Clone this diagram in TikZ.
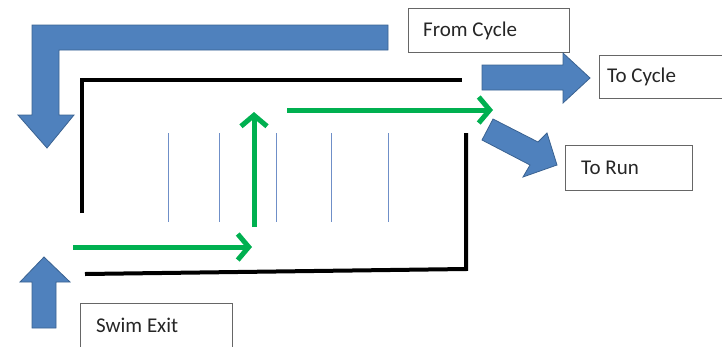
\documentclass[tikz,border=0pt]{standalone}
\usepackage{fontspec}
\setmainfont{Carlito}
\usetikzlibrary{arrows.meta}
\definecolor{arrblue}{HTML}{4F81BD}
\definecolor{arredge}{HTML}{3A6291}
\definecolor{thinblue}{HTML}{6F8FC8}
\definecolor{flowgreen}{HTML}{00B050}
\tikzset{
  bluearrow/.style={fill=arrblue, draw=arredge, line width=0.8pt, line join=miter},
  wall/.style={draw=black, line width=4pt},
  lane/.style={draw=thinblue, line width=0.9pt},
  flow/.style={draw=flowgreen, line width=5pt, -{Straight Barb[length=11pt,width=26pt,line width=5pt]}},
  label/.style={draw=black!60, line width=0.7pt, fill=white, anchor=north west, inner sep=0pt},
  labeltext/.style={anchor=west, inner sep=0pt, text=black!85, font=\fontsize{21}{24}\selectfont},
}
\begin{document}
\begin{tikzpicture}[x=1pt,y=-1pt]
\useasboundingbox (0,0) rectangle (722,346);
% text boxes
\node[label, minimum width=161pt, minimum height=44pt] (fromcycle) at (408,8) {};
\node[labeltext] (fromcycleT) at (423,31) {From Cycle};
\node[label, minimum width=130pt, minimum height=43pt] (tocycle) at (599,55) {};
\node[labeltext] (tocycleT) at (607,77) {To Cycle};
\node[label, minimum width=127pt, minimum height=45pt] (torun) at (565,145) {};
\node[labeltext] (torunT) at (581,168) {To Run};
\node[label, minimum width=152pt, minimum height=50pt] (swimexit) at (80,303) {};
\node[labeltext] (swimexitT) at (96,325) {Swim Exit};
% big blue arrows
\path[bluearrow] (388,25) -- (32,25) -- (32,115) -- (18,115) -- (47,148) -- (74,115) -- (59,115) -- (59,50) -- (388,50) -- cycle;
\path[bluearrow] (482,65) -- (563,65) -- (563,53) -- (590,78) -- (563,103) -- (563,90) -- (482,90) -- cycle;
\path[bluearrow] (493,119) -- (538,142) -- (547,133) -- (557,165) -- (523,177) -- (530,165) -- (482,140) -- cycle;
\path[bluearrow] (32,328) -- (32,282) -- (20,282) -- (44,257) -- (70,282) -- (56,282) -- (56,328) -- cycle;
% walls
\coordinate (wA) at (82,213);
\coordinate (wB) at (82,80);
\coordinate (wC) at (462,80);
\draw[wall] (wA) -- (wB) -- (wC);
\coordinate (wD) at (466,133);
\coordinate (wE) at (466,269);
\coordinate (wF) at (85,274);
\draw[wall] (wD) -- (wE) -- (wF);
% lane lines
\foreach \x [count=\i] in {168,219,276,331,388} {
  \coordinate (lt\i) at (\x,133);
  \coordinate (lb\i) at (\x,222);
  \draw[lane] (lt\i) -- (lb\i);
}
% green flow
\coordinate (g1) at (73,247);
\coordinate (g2) at (252,247);
\coordinate (g3) at (254,227);
\coordinate (g4) at (254,112);
\coordinate (g5) at (287,110);
\coordinate (g6) at (493,110);
\draw[flow] (g1) -- (g2);
\draw[flow] (g3) -- (g4);
\draw[flow] (g5) -- (g6);
\end{tikzpicture}
\end{document}
